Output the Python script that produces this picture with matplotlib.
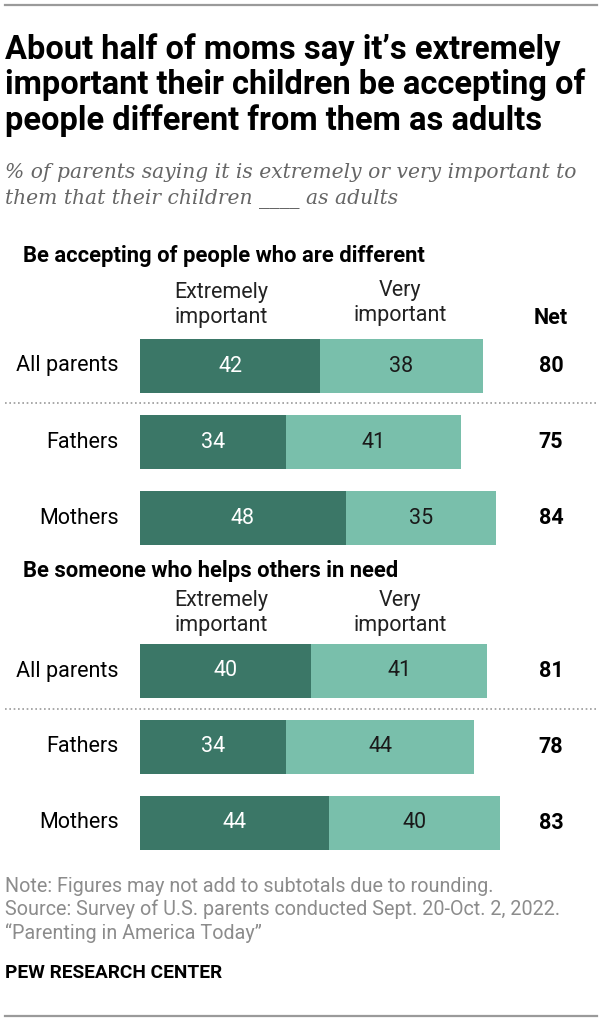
import matplotlib
matplotlib.use("Agg")
import matplotlib.pyplot as plt

# --- data ---
sections = ["Be accepting of people who are different",
            "Be someone who helps others in need"]
groups = ["All parents", "Fathers", "Mothers"]
extremely = [[42, 34, 48], [40, 34, 44]]
very = [[38, 41, 35], [41, 44, 40]]
net = [[80, 75, 84], [81, 78, 83]]

title = ("About half of moms say it\u2019s extremely\n"
         "important their children be accepting of\n"
         "people different from them as adults")
subtitle = ("% of parents saying it is extremely or very important to\n"
            "them that their children ____ as adults")
notes = ("Note: Figures may not add to subtotals due to rounding.\n"
         "Source: Survey of U.S. parents conducted Sept. 20-Oct. 2, 2022.\n"
         "\u201cParenting in America Today\u201d")

DARK = "#3b7767"
LIGHT = "#79bfab"
plt.rcParams["font.family"] = ["Roboto", "DejaVu Sans"]

W, H = 601, 1023
fig = plt.figure(figsize=(W / 100, H / 100), dpi=100)
ax = fig.add_axes([0, 0, 1, 1])
# x in percent units: 0 -> 140 px, 4.286 px per point; y in pixels from top
x0, ppu = 140, 4.286
ax.set_xlim(-x0 / ppu, (W - x0) / ppu)
ax.set_ylim(H, 0)
ax.axis("off")

def px(x):
    return (x - x0) / ppu

# rules
ax.plot([px(5), px(597)], [5, 5], color="#9a9a9a", lw=1.6)
ax.plot([px(5), px(597)], [1016, 1016], color="#9a9a9a", lw=1.6)

ax.text(px(5), 85, title, fontsize=23.5, fontweight="bold", va="center",
        ha="left", linespacing=1.1, color="black")
ax.text(px(5), 186, subtitle, fontsize=14.6, style="italic", va="center",
        ha="left", linespacing=1.5, color="#666666",
        family=["DejaVu Serif"])

section_y = [256, 571]
label_y = [305, 613]
row_y = [[366, 442, 518], [671, 747, 823]]
divider_y = [403, 709]
bar_h = 54

for s in range(2):
    ax.text(px(23), section_y[s], sections[s], fontsize=15.8, fontweight="bold",
            va="center", ha="left", color="black")
    ax.text(px(221), label_y[s], "Extremely\nimportant", fontsize=15.5,
            ha="center", va="center", linespacing=1.25, color="#222222")
    ax.text(px(400), label_y[s] - (2 if s == 0 else 0), "Very\nimportant",
            fontsize=15.5, ha="center", va="center", linespacing=1.25,
            color="#222222")
    if s == 0:
        ax.text(px(551), 318, "Net", fontsize=15.5, fontweight="bold",
                ha="center", va="center", color="black")
    ys = row_y[s]
    ax.barh(ys, extremely[s], height=bar_h, color=DARK, left=0)
    ax.barh(ys, very[s], height=bar_h, color=LIGHT, left=extremely[s])
    for y, g, e, v, n in zip(ys, groups, extremely[s], very[s], net[s]):
        ax.text(px(119), y, g, fontsize=15.5, ha="right", va="center",
                color="black")
        ax.text(e / 2, y, str(e), fontsize=15.5, ha="center", va="center",
                color="white")
        ax.text(e + v / 2, y, str(v), fontsize=15.5, ha="center",
                va="center", color="#1a1a1a")
        ax.text(px(551), y, str(n), fontsize=15.5, fontweight="bold",
                ha="center", va="center", color="black")
    ax.plot([px(5), px(597)], [divider_y[s]] * 2, color="#9a9a9a", lw=1.2,
            linestyle=(0, (1, 1.6)))

ax.text(px(5), 910, notes, fontsize=14.2, va="center", ha="left",
        linespacing=1.25, color="#8c8c8c")
ax.text(px(5), 973, "PEW RESEARCH CENTER", fontsize=13.8, fontweight="bold",
        va="center", ha="left", color="black")

fig.savefig("out.png", dpi=100)
